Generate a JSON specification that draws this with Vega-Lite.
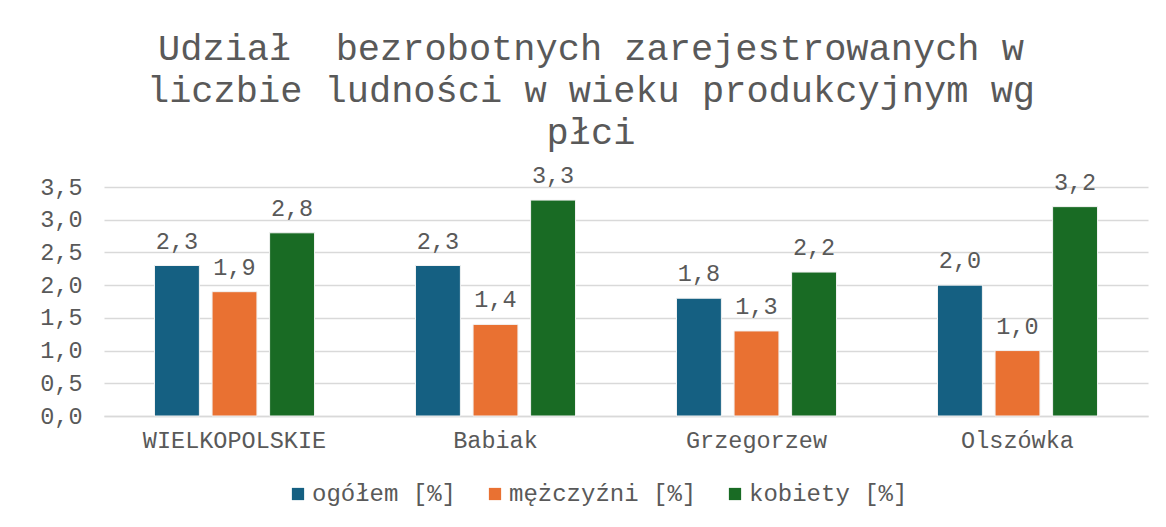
{
  "$schema": "https://vega.github.io/schema/vega-lite/v6.json",
  "width": 1044,
  "height": 229,
  "autosize": {"type": "none"},
  "padding": {"left": 104, "top": 187, "right": 18, "bottom": 111},
  "background": "white",
  "config": {
    "locale": {"number": {"decimal": ",", "thousands": " ", "grouping": [3], "currency": ["", " zł"]}},
    "font": "Liberation Mono",
    "view": {"stroke": null},
    "axis": {"labelFont": "Liberation Mono", "labelColor": "#595959", "labelFontSize": 23.5, "titleColor": "#595959", "labelLimit": 0}
  },
  "title": {
    "text": ["Udział\u00a0 bezrobotnych zarejestrowanych w", "liczbie ludności w wieku produkcyjnym wg", "płci"],
    "font": "Liberation Mono",
    "fontSize": 37,
    "fontWeight": "normal",
    "color": "#595959",
    "lineHeight": 42,
    "anchor": "middle",
    "dx": -35,
    "offset": 12
  },
  "data": {
    "values": [
      {"region": "WIELKOPOLSKIE", "series": "ogółem [%]", "value": 2.3},
      {"region": "WIELKOPOLSKIE", "series": "mężczyźni [%]", "value": 1.9},
      {"region": "WIELKOPOLSKIE", "series": "kobiety [%]", "value": 2.8},
      {"region": "Babiak", "series": "ogółem [%]", "value": 2.3},
      {"region": "Babiak", "series": "mężczyźni [%]", "value": 1.4},
      {"region": "Babiak", "series": "kobiety [%]", "value": 3.3},
      {"region": "Grzegorzew", "series": "ogółem [%]", "value": 1.8},
      {"region": "Grzegorzew", "series": "mężczyźni [%]", "value": 1.3},
      {"region": "Grzegorzew", "series": "kobiety [%]", "value": 2.2},
      {"region": "Olszówka", "series": "ogółem [%]", "value": 2.0},
      {"region": "Olszówka", "series": "mężczyźni [%]", "value": 1.0},
      {"region": "Olszówka", "series": "kobiety [%]", "value": 3.2}
    ]
  },
  "encoding": {
    "x": {
      "field": "region", "type": "nominal", "sort": null,
      "scale": {"paddingInner": 0.387, "paddingOuter": 0.1935},
      "axis": {"title": null, "labelAngle": 0, "ticks": false, "domainColor": "#d9d9d9", "domainWidth": 1.5, "labelPadding": 12, "labelBaseline": "top", "labelLimit": 0}
    },
    "xOffset": {
      "field": "series", "type": "nominal", "sort": ["ogółem [%]", "mężczyźni [%]", "kobiety [%]"],
      "scale": {"paddingInner": 0.22, "paddingOuter": 0}
    },
    "y": {
      "field": "value", "type": "quantitative",
      "scale": {"domain": [0, 3.5], "nice": false},
      "axis": {"title": null, "values": [0, 0.5, 1, 1.5, 2, 2.5, 3, 3.5], "format": ".1f", "ticks": false, "domain": false, "gridColor": "#d9d9d9", "gridWidth": 1.5, "labelPadding": 22}
    }
  },
  "layer": [
    {
      "mark": {"type": "bar", "stroke": "#f2f2f2", "strokeWidth": 1},
      "encoding": {
        "color": {
          "field": "series", "type": "nominal", "sort": ["ogółem [%]", "mężczyźni [%]", "kobiety [%]"],
          "scale": {"domain": ["ogółem [%]", "mężczyźni [%]", "kobiety [%]"], "range": ["#156082", "#E97132", "#196B24"]},
          "legend": {
            "title": null, "orient": "none", "legendX": 182, "legendY": 295, "direction": "horizontal",
            "symbolType": "square", "symbolSize": 150, "symbolStrokeWidth": 0,
            "labelFont": "Liberation Mono", "labelFontSize": 24, "labelColor": "#595959",
            "labelOffset": 2, "columnPadding": 26, "labelLimit": 400
          }
        }
      }
    },
    {
      "mark": {"type": "text", "baseline": "alphabetic", "dy": -17, "font": "Liberation Mono", "fontSize": 23.5, "color": "#595959"},
      "encoding": {
        "text": {"field": "value", "type": "quantitative", "format": ".1f"}
      }
    }
  ]
}
